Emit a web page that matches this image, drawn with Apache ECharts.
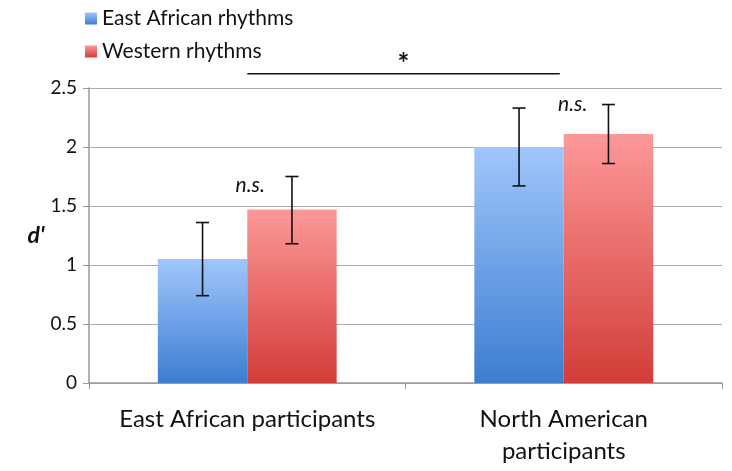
<!DOCTYPE html>
<html><head><meta charset="utf-8">
<script src="https://cdn.jsdelivr.net/npm/echarts@6/dist/echarts.min.js"></script>
<style>html,body{margin:0;padding:0;background:#fff}#c{width:732px;height:471px}</style>
</head><body><div id="c"></div>
<script>
var categories = ['East African participants', 'North American\nparticipants'];
var seriesNames = ['East African rhythms', 'Western rhythms'];
var eastVals = [1.05, 2.0];
var westVals = [1.47, 2.11];
var eastLow = [0.74, 1.67];
var eastHigh = [1.36, 2.33];
var westLow = [1.18, 1.86];
var westHigh = [1.75, 2.36];
var nsLabelY = [1.68, 2.36];
var sigLineY = 2.62;
var yTicks = [0, 0.5, 1, 1.5, 2, 2.5];

var FONT = 'Lato';
var gap = 0.435;

function grad(top, bottom) {
  return new echarts.graphic.LinearGradient(0, 0, 0, 1, [{offset: 0, color: top}, {offset: 1, color: bottom}]);
}
var blue = grad('#a0c6fc', '#3c7dd0');
var red = grad('#fd9898', '#d23d38');

function errSeries(low, high, side) {
  return {
    type: 'custom',
    silent: true,
    z: 10,
    clip: false,
    data: low.map(function (l, i) { return [i, l, high[i]]; }),
    renderItem: function (params, api) {
      var i = api.value(0);
      var cw = api.size([1, 0])[0];
      var bw = cw * (1 - gap) / 2;
      var pLo = api.coord([i, api.value(1)]);
      var pHi = api.coord([i, api.value(2)]);
      var x = pLo[0] + side * bw / 2;
      var cap = 6.5;
      var st = {stroke: '#111', lineWidth: 1.6};
      return {type: 'group', children: [
        {type: 'line', shape: {x1: x, y1: pLo[1], x2: x, y2: pHi[1]}, style: st},
        {type: 'line', shape: {x1: x - cap, y1: pLo[1], x2: x + cap, y2: pLo[1]}, style: st},
        {type: 'line', shape: {x1: x - cap, y1: pHi[1], x2: x + cap, y2: pHi[1]}, style: st}
      ]};
    }
  };
}

var chart = echarts.init(document.getElementById('c'));
chart.setOption({
  animation: false,
  textStyle: {fontFamily: FONT},
  grid: {left: 89, right: 10, top: 88, bottom: 88},
  legend: {
    orient: 'vertical', left: 80, top: 3, itemWidth: 12, itemHeight: 12, itemGap: 12,
    icon: 'rect',
    textStyle: {fontFamily: FONT, fontSize: 21, color: '#111', padding: [0, 0, 0, 0]},
    data: seriesNames
  },
  xAxis: {
    type: 'category', data: categories,
    axisLine: {lineStyle: {color: '#999', width: 1.5}},
    axisTick: {show: true, alignWithLabel: false, length: 6, lineStyle: {color: '#999'}},
    axisLabel: {interval: 0, hideOverlap: false, fontFamily: FONT, fontSize: 24, color: '#111', margin: 20, lineHeight: 32}
  },
  yAxis: {
    type: 'value', min: 0, max: 2.5, interval: 0.5,
    name: "d'", nameLocation: 'middle', nameGap: 44, nameRotate: 0,
    nameTextStyle: {fontFamily: FONT, fontSize: 23, fontWeight: 'bold', fontStyle: 'italic', color: '#111', padding: [18, 0, 0, 0]},
    axisLine: {show: true, lineStyle: {color: '#999', width: 1.5}},
    axisTick: {show: true, length: 6, lineStyle: {color: '#999'}},
    axisLabel: {fontFamily: FONT, fontSize: 19, color: '#111', margin: 12,
      formatter: function (v) { return yTicks.indexOf(v) >= 0 ? String(v) : ''; }},
    splitLine: {lineStyle: {color: '#aaa', width: 1.2}}
  },
  series: [
    {name: seriesNames[0], type: 'bar', data: eastVals, barGap: 0, barCategoryGap: (gap * 100) + '%',
      itemStyle: {color: blue}},
    {name: seriesNames[1], type: 'bar', data: westVals, barGap: 0, barCategoryGap: (gap * 100) + '%',
      itemStyle: {color: red}},
    errSeries(eastLow, eastHigh, -1),
    errSeries(westLow, westHigh, 1),
    {
      type: 'custom', silent: true, clip: false, z: 11,
      data: nsLabelY.map(function (v, i) { return [i, v]; }),
      renderItem: function (params, api) {
        var p = api.coord([api.value(0), api.value(1)]);
        return {type: 'text', x: p[0] + 3 + 6 * api.value(0), y: p[1],
          style: {text: 'n.s.', fontFamily: FONT, fontSize: 21, fontStyle: 'italic', fill: '#111',
            textAlign: 'center', textVerticalAlign: 'middle'}};
      }
    },
    {
      type: 'custom', silent: true, clip: false, z: 11,
      data: [[0, sigLineY, 1]],
      renderItem: function (params, api) {
        var a = api.coord([api.value(0), api.value(1)]);
        var b = api.coord([api.value(2), api.value(1)]);
        b[0] -= 4;
        return {type: 'group', children: [
          {type: 'line', shape: {x1: a[0], y1: a[1], x2: b[0], y2: b[1]}, style: {stroke: '#111', lineWidth: 1.5}},
          {type: 'text', x: (a[0] + b[0]) / 2, y: a[1] - 10,
            style: {text: '*', fontFamily: FONT, fontSize: 28, fontWeight: 'bold', fill: '#111',
              textAlign: 'center', textVerticalAlign: 'middle'}}
        ]};
      }
    }
  ]
});
</script></body></html>
